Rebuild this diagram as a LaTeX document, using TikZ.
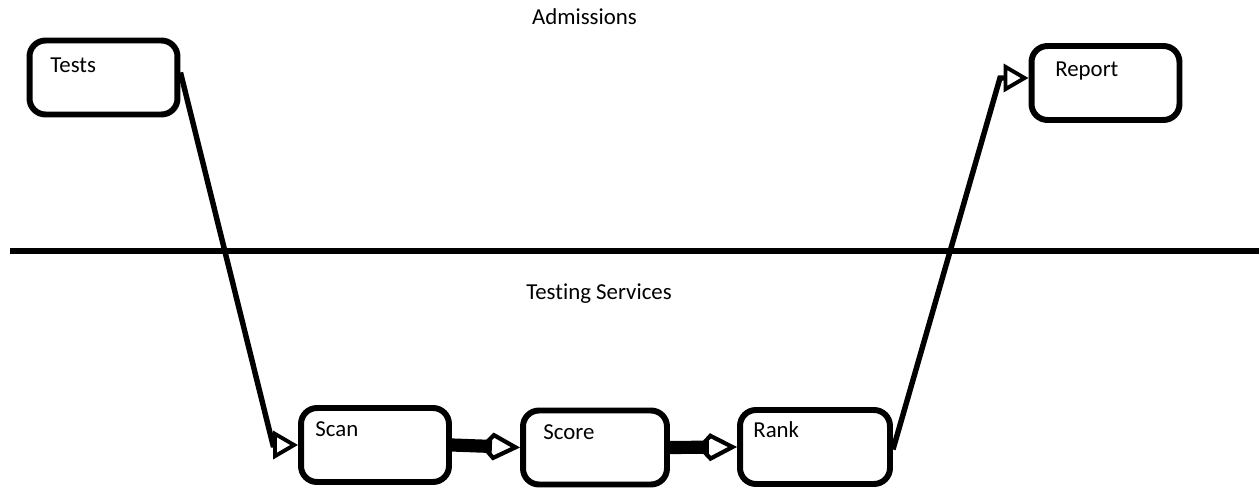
\documentclass[tikz,border=0pt]{standalone}
\usepackage{fontspec}
\setmainfont{Carlito}[Ligatures=NoCommon]
\usepackage{tikz}
\usetikzlibrary{arrows.meta}

\begin{document}
\begin{tikzpicture}[x=0.02cm, y=-0.02cm,
    box/.style={draw, rounded corners=0.32cm, line width=3.4pt, minimum width=2.96cm, minimum height=1.48cm, inner sep=0pt},
    txt/.style={font=\fontsize{13}{15}\selectfont, inner sep=0pt},
    conn/.style={line width=3.1pt, -{Triangle[open, length=0.5cm, width=0.56cm, line width=2.2pt]}},
    bar/.style={line width=7.5pt, -{Kite[open, length=0.8cm, width=0.56cm, inset=0.26cm, line width=2.4pt]}}]
    \useasboundingbox (0,0) rectangle (1259,489);
    	\node[box] (tests) at (103.5,77.5) {};
    	\node[box] (scan) at (375,445) {};
    	\node[box, minimum width=2.88cm] (score) at (595,447.5) {};
    	\node[box, minimum width=3cm] (rank) at (815,447) {};
    	\node[box] (report) at (1105.5,83) {};
    	\node[txt, anchor=base west] (teststxt) at (50,73) {Tests};
    	\node[txt, anchor=base west] (scantxt) at (315,437) {Scan};
    	\node[txt, anchor=base west] (scoretxt) at (543,440) {Score};
    	\node[txt, anchor=base west] (ranktxt) at (753,438) {Rank};
    	\node[txt, anchor=base west] (reporttxt) at (1055,77) {Report};
    	\node[txt, anchor=base] (admissions) at (584.5,25) {Admissions};
    	\node[txt, anchor=base] (testing) at (599,300) {Testing Services};
    	\draw[line width=3.4pt] (10,251) -- (1259,251);
    	\draw[conn] ([yshift=0.1cm]tests.east) -- (273,0 |- scan.west) -- (scan.west);
    	\draw[bar] (scan.east) -- (score.west);
    	\draw[bar] (score.east) -- (rank.west);
    	\draw[conn] ([yshift=-0.05cm]rank.east) -- (1000,78) -- ([yshift=0.1cm]report.west);
    \end{tikzpicture}
\end{document}
